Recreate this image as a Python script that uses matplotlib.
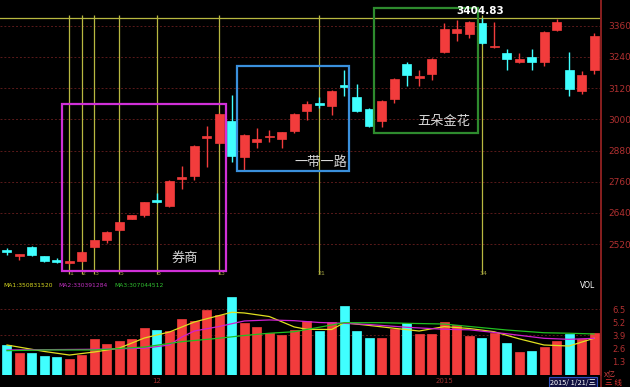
import matplotlib
matplotlib.use("Agg")
import matplotlib.pyplot as plt
from matplotlib.patches import Rectangle

# ── Datos ─────────────────────────────────────────────────────────────────────
opens = [2495, 2477, 2509, 2474, 2456, 2447, 2455, 2509, 2536, 2574,
         2617, 2632, 2690, 2667, 2770, 2782, 2928, 2909, 2993, 2855,
         2913, 2932, 2924, 2955, 3032, 3061, 3051, 3131, 3086, 3040,
         2993, 3078, 3213, 3160, 3174, 3259, 3332, 3328, 3370, 3278,
         3255, 3220, 3240, 3220, 3343, 3190, 3109, 3190]
closes = [2492, 2479, 2478, 2455, 2454, 2455, 2490, 2536, 2567, 2605,
          2632, 2682, 2682, 2763, 2778, 2897, 2936, 3020, 2859, 2940,
          2924, 2936, 2951, 3020, 3059, 3057, 3109, 3127, 3032, 2974,
          3070, 3155, 3170, 3164, 3232, 3347, 3347, 3374, 3293, 3282,
          3232, 3232, 3220, 3336, 3374, 3117, 3170, 3320]
highs = [2505, 2481, 2512, 2476, 2467, 2457, 2492, 2538, 2569, 2607,
         2634, 2684, 2717, 2765, 2820, 2900, 2974, 3024, 3093, 2943,
         2967, 2959, 2953, 3023, 3070, 3086, 3112, 3190, 3136, 3043,
         3073, 3158, 3220, 3190, 3235, 3370, 3384, 3378, 3388, 3374,
         3270, 3255, 3270, 3339, 3385, 3259, 3186, 3332]
lows = [2478, 2459, 2476, 2453, 2447, 2445, 2452, 2505, 2524, 2572,
        2615, 2624, 2680, 2663, 2732, 2767, 2817, 2905, 2836, 2805,
        2890, 2913, 2890, 2947, 2997, 3043, 3017, 3090, 3028, 2971,
        2970, 3063, 3128, 3128, 3151, 3255, 3301, 3313, 3290, 3276,
        3190, 3217, 3190, 3205, 3340, 3090, 3097, 3174]

# volumen en 亿
volume = [2.96, 2.14, 2.14, 1.91, 1.75, 1.58, 1.97, 3.55, 3.06, 3.33,
          3.55, 4.61, 4.41, 4.31, 5.56, 5.30, 6.42, 5.89, 7.73, 5.16,
          4.74, 4.11, 3.95, 4.44, 5.36, 4.30, 5.20, 6.81, 4.34, 3.65,
          3.65, 4.54, 5.10, 4.02, 4.02, 5.26, 4.94, 3.88, 3.65, 4.11,
          3.13, 2.24, 2.37, 2.80, 3.36, 4.02, 3.55, 4.11]

# medias moviles del volumen, leidas punto a punto
ma1_idx = [0, 3, 5, 7, 9, 11, 13, 15, 17, 18, 19, 21, 23, 24, 26, 27, 29, 31,
           33, 35, 37, 39, 41, 43, 45, 47]
ma1_val = [2.96, 2.32, 1.97, 2.27, 2.66, 3.65, 4.24, 5.23, 5.87, 6.19, 6.12,
           5.77, 4.74, 4.51, 4.49, 5.15, 4.89, 4.61, 4.34, 4.77, 4.59, 4.27,
           3.57, 2.96, 2.86, 3.62]
ma2_idx = [0, 3, 7, 11, 13, 14, 15, 17, 19, 21, 23, 25, 27, 29, 32, 35, 37,
           40, 43, 45, 47]
ma2_val = [2.47, 2.50, 2.54, 2.64, 2.96, 3.75, 4.34, 4.79, 5.33, 5.43, 5.36,
           5.18, 5.10, 4.98, 4.71, 4.51, 4.46, 4.07, 3.62, 3.52, 3.62]
ma3_idx = [0, 3, 7, 11, 14, 17, 19, 21, 23, 25, 27, 30, 32, 35, 37, 40, 43,
           45, 47]
ma3_val = [2.40, 2.47, 2.47, 2.76, 3.29, 3.63, 3.90, 4.12, 4.27, 4.71, 5.16,
           5.16, 5.10, 5.03, 4.79, 4.44, 4.17, 4.12, 4.05]

price_ticks = [2520, 2640, 2760, 2880, 3000, 3120, 3240, 3360]
vol_ticks = [1.3, 2.6, 3.9, 5.2, 6.5]

fib_start = 4
fib_steps = [1, 2, 3, 5, 8, 13, 21, 34]
peak_level = 3388
peak_label = "3404.83"

# cajas de sectores: (indice ini, indice fin, precio bajo, precio alto, texto, color)
boxes = [
    (4.4, 17.5, 2417, 3058, "券商", "#d030d8"),
    (18.4, 27.4, 2801, 3205, "一带一路", "#3a90dc"),
    (29.4, 37.7, 2947, 3428, "五朵金花", "#2e8b2e"),
]
box_text_pos = [(14.2, 2466), (25.1, 2836), (35.0, 2990)]

month_labels = [(12, "12"), (35, "2015")]

UP = "#f23c3c"
DOWN = "#40ffff"
BG = "#000000"
AXIS_RED = "#b03030"
GRID_RED = "#5a1a1a"
FIB_YEL = "#b8b840"
CJK = ["Noto Sans CJK SC", "DejaVu Sans"]

W, H = 630, 387


def px_rect(x0, y0, x1, y1):
    return [x0 / W, 1 - y1 / H, (x1 - x0) / W, (y1 - y0) / H]


fig = plt.figure(figsize=(W / 100, H / 100), dpi=100, facecolor=BG)

# ── Panel de precios ──────────────────────────────────────────────────────────
ax = fig.add_axes(px_rect(0, 0, 601, 278), facecolor=BG)
ax.set_xlim(-0.56, 47.56)
ax.set_ylim(2390, 3459)
n = len(opens)
for i in range(n):
    o, c, h, l = opens[i], closes[i], highs[i], lows[i]
    col = UP if c >= o else DOWN
    ax.vlines(i, l, h, color=col, lw=1, zorder=3)
    body = max(abs(c - o), 6)
    ax.bar(i, body, bottom=min(o, c) - (body - abs(c - o)) / 2, width=0.72,
           color=col, edgecolor=col, lw=0.5, zorder=4)

for lvl in price_ticks:
    ax.axhline(lvl, color=GRID_RED, lw=0.7, ls=(0, (2, 2)), zorder=1)

ax.axhline(peak_level, color=FIB_YEL, lw=0.9, zorder=2)
for step in fib_steps:
    xi = fib_start + step
    ax.vlines(xi, 2405, 3401, color=FIB_YEL, lw=0.9, zorder=2)
    ax.text(xi + 0.15, 2398, str(step), color="#a0a040", fontsize=4.5,
            ha="center", va="bottom", zorder=5)

ax.text(36.0, 3397, peak_label, color="white", fontsize=7.5, fontweight="bold",
        ha="left", va="bottom", zorder=6)

for (x0, x1, y0, y1, label, col), (tx, ty) in zip(boxes, box_text_pos):
    ax.add_patch(Rectangle((x0, y0), x1 - x0, y1 - y0, fill=False,
                           edgecolor=col, lw=1.6, zorder=5))
    ax.text(tx, ty, label, color="#d8d8d8", fontsize=9.5, family=CJK,
            ha="center", va="center", zorder=6)

ax.yaxis.tick_right()
ax.set_yticks(price_ticks)
ax.set_yticklabels([str(t) for t in price_ticks], color=AXIS_RED, fontsize=6.5)
ax.tick_params(axis="y", length=0, pad=5)
ax.set_xticks([])
for s in ["top", "left", "bottom"]:
    ax.spines[s].set_visible(False)
ax.spines["right"].set_color("#8a2020")
ax.spines["right"].set_linewidth(1.2)

# ── Panel de volumen ──────────────────────────────────────────────────────────
axv = fig.add_axes(px_rect(0, 278, 601, 375), facecolor=BG)
axv.set_xlim(-0.56, 47.56)
axv.set_ylim(0, 9.57)
for i in range(n):
    col = UP if closes[i] >= opens[i] else DOWN
    axv.bar(i, volume[i], width=0.72, color=col, edgecolor=col, lw=0.5, zorder=3)

axv.plot(ma1_idx, ma1_val, color="#e0e020", lw=0.9, zorder=4)
axv.plot(ma2_idx, ma2_val, color="#d020d0", lw=0.9, zorder=4)
axv.plot(ma3_idx, ma3_val, color="#20c020", lw=0.9, zorder=4)

for lvl in (6.5, 3.9):
    axv.axhline(lvl, color=GRID_RED, lw=0.7, ls=(0, (2, 2)), zorder=1)

axv.text(3 / 601, 0.92, "MA1:350831520", color="#d8d820", fontsize=4.3,
         transform=axv.transAxes, va="center")
axv.text(58 / 601, 0.92, "MA2:330391284", color="#c030c0", fontsize=4.3,
         transform=axv.transAxes, va="center")
axv.text(114 / 601, 0.92, "MA3:307044512", color="#30c030", fontsize=4.3,
         transform=axv.transAxes, va="center")
axv.text(0.99, 0.92, "VOL", color="white", fontsize=5.5,
         transform=axv.transAxes, ha="right", va="center")

axv.yaxis.tick_right()
axv.set_yticks(vol_ticks)
axv.set_yticklabels([str(t) for t in vol_ticks], color=AXIS_RED, fontsize=6)
axv.tick_params(axis="y", length=0, pad=8)
axv.set_xticks([])
for s in ["top", "left", "bottom"]:
    axv.spines[s].set_visible(False)
axv.spines["right"].set_color("#8a2020")
axv.spines["right"].set_linewidth(1.2)

for xi, lab in month_labels:
    axv.text(xi, -0.25, lab, color="#a03030", fontsize=5, ha="center",
             va="top", clip_on=False)

# ── Franja inferior ───────────────────────────────────────────────────────────
fig.text(604 / W, 1 - 375 / H, "X亿", color="#d04040", fontsize=5.5, family=CJK,
         va="center")
fig.text(550 / W, 1 - 382.5 / H, "2015/ 1/21/三", color="white", fontsize=5.2,
         family=CJK, va="center",
         bbox=dict(facecolor="#101040", edgecolor="#3050c0", lw=0.8, pad=0.8))
fig.text(605 / W, 1 - 383 / H, "三 线", color="#e03030", fontsize=5.5,
         family=CJK, va="center")
fig.add_artist(plt.Line2D([601 / W, 601 / W], [0, 1], color="#8a2020", lw=1.2))

fig.savefig("out.png", dpi=100, facecolor=BG)
